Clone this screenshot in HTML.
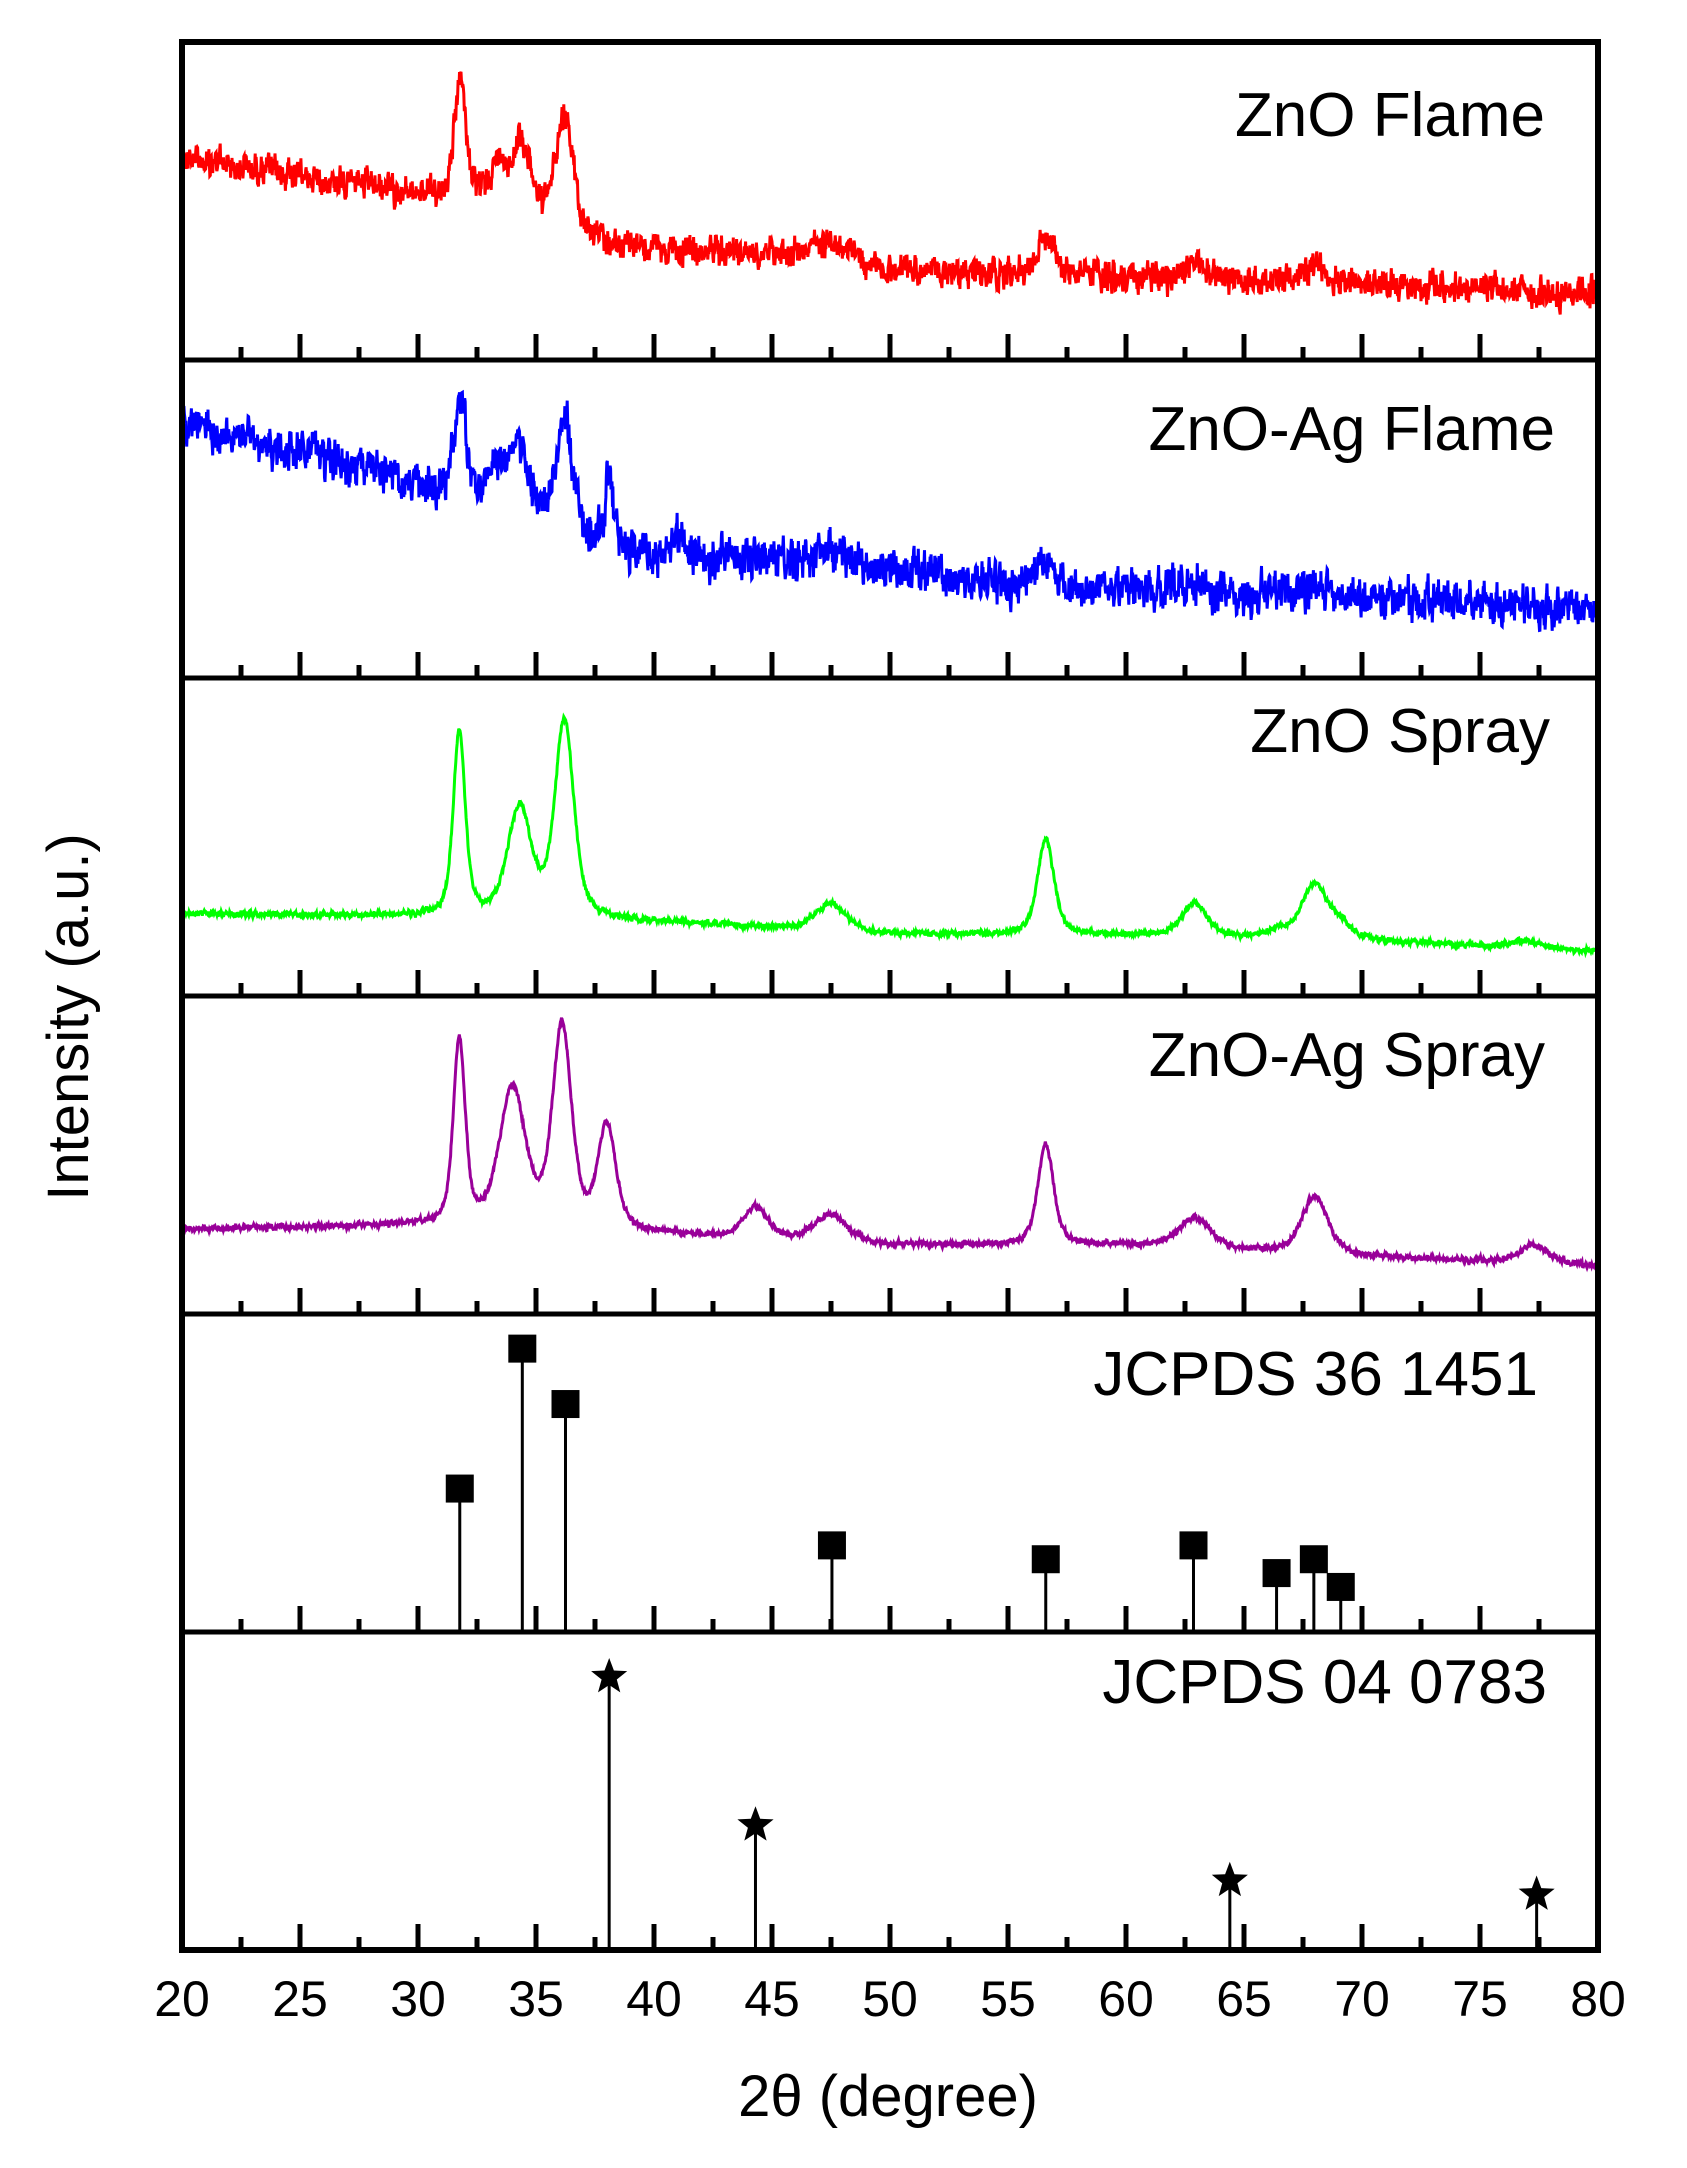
<!DOCTYPE html>
<html><head><meta charset="utf-8"><style>
html,body{margin:0;padding:0;background:#fff;}
svg{display:block;}
text{font-family:"Liberation Sans",Arial,sans-serif;fill:#000;}
</style></head><body>
<svg id="s" width="1687" height="2168" viewBox="0 0 1687 2168" xmlns="http://www.w3.org/2000/svg">
<g id="curves"></g>
<g id="axes" stroke="#000" fill="none"></g>
<g id="sticks"></g>
<text x="1545" y="136" font-size="62" text-anchor="end">ZnO Flame</text>
<text x="1555" y="450" font-size="62" text-anchor="end">ZnO-Ag Flame</text>
<text x="1550" y="752" font-size="62" text-anchor="end">ZnO Spray</text>
<text x="1545" y="1076" font-size="62" text-anchor="end">ZnO-Ag Spray</text>
<text x="1538" y="1395" font-size="62" text-anchor="end">JCPDS 36 1451</text>
<text x="1547" y="1703" font-size="62" text-anchor="end">JCPDS 04 0783</text>
<text transform="translate(88,1017) rotate(-90)" font-size="58" text-anchor="middle">Intensity (a.u.)</text>
<text x="888" y="2116" font-size="58" text-anchor="middle">2θ (degree)</text>
<g id="ticklabels" font-size="50" text-anchor="middle"></g>
</svg>
<script>
var L=182,R=1598,T=42,PH=318;
function X(t){return L+(t-20)*(R-L)/60;}
var S=1.3856;
var seed=12345;function rnd(){seed=(seed*1103515245+12345)%2147483648;return seed/2147483648;}
function interp(pts,t){for(var i=0;i<pts.length-1;i++){if(t<=pts[i+1][0]){var a=pts[i],b=pts[i+1];return a[1]+(b[1]-a[1])*(t-a[0])/(b[0]-a[0]);}}return pts[pts.length-1][1];}
function pk(t,c,h,w){var d=(t-c)/(w/2);return h*(0.5/(1+d*d)+0.5*Math.exp(-0.693*d*d));}
function curve(panel,bg,peaks,noise,color){
  var d="",top=T+panel*PH,prev=0;
  for(var t=20;t<=80.001;t+=0.02){
    var y=interp(bg,t);
    for(var j=0;j<peaks.length;j++)y-=pk(t,peaks[j][0],peaks[j][1],peaks[j][2]);
    var n=noise*(rnd()+rnd()-1);prev=0.45*prev+0.75*n;
    y+=prev;
    var py=top+y*S;
    d+=(d?"L":"M")+X(t).toFixed(1)+","+py.toFixed(1);
  }
  var p=document.createElementNS("http://www.w3.org/2000/svg","path");
  p.setAttribute("d",d);p.setAttribute("stroke",color);p.setAttribute("stroke-width","3");p.setAttribute("fill","none");
  document.getElementById("curves").appendChild(p);
}
// ZnO Flame
curve(0,[[20,83],[30,110],[31,113],[37,143],[40,150],[47,152],[50,165],[60,170],[70,175],[80,182]],
 [[31.8,88,0.6],[33.4,32,1.0],[34.4,55,0.9],[36.2,85,0.9],[47.5,12,1.5],[56.6,30,0.8],[62.9,10,1.2],[68,12,1.3]],16,"#ff0000");
// ZnO-Ag Flame
curve(1,[[20,45],[30,90],[31,97],[37,130],[40,142],[48,147],[55,162],[60,167],[70,172],[80,180]],
 [[31.8,70,0.6],[33.3,30,1.0],[34.3,55,0.9],[36.2,82,0.9],[38.1,50,0.35],[41,15,0.8],[47.5,10,1.5],[56.6,20,0.8],[62.9,8,1.2],[68,8,1.3]],22,"#0000ff");
// ZnO Spray
curve(2,[[20,170],[30,172],[40,176],[50,185],[60,186],[70,190],[80,197]],
 [[31.75,133,0.6],[34.3,78,1.2],[36.2,142,0.95],[47.5,20,1.5],[56.6,68,0.85],[62.9,24,1.3],[66.4,6,1],[68,40,1.3],[69.1,10,1],[77,5,1.5]],3,"#00ff00");
// ZnO-Ag Spray
curve(3,[[20,168],[30,166],[40,172],[50,180],[60,180],[70,188],[80,195]],
 [[31.75,133,0.6],[34,100,1.3],[36.1,145,0.95],[38,75,0.9],[44.3,22,1.2],[47.5,20,1.6],[56.6,72,0.8],[62.9,22,1.6],[68,42,1.3],[77.3,13,1.5]],3,"#990099");

var ax=document.getElementById("axes"),NS="http://www.w3.org/2000/svg";
function line(x1,y1,x2,y2,w,parent,c){var l=document.createElementNS(NS,"line");l.setAttribute("x1",x1);l.setAttribute("y1",y1);l.setAttribute("x2",x2);l.setAttribute("y2",y2);l.setAttribute("stroke",c||"#000");l.setAttribute("stroke-width",w);(parent||ax).appendChild(l);}
var rect=document.createElementNS(NS,"rect");rect.setAttribute("x",L);rect.setAttribute("y",T);rect.setAttribute("width",R-L);rect.setAttribute("height",6*PH);rect.setAttribute("stroke-width","6");ax.appendChild(rect);
for(var i=1;i<6;i++)line(L,T+i*PH,R,T+i*PH,5);
for(var i=1;i<=6;i++){var yb=T+i*PH;
  for(var t=22.5;t<80;t+=2.5){var maj=(Math.abs(t%5)<0.01);line(X(t),yb,X(t),yb-(maj?26:13),5);}
}
var tl=document.getElementById("ticklabels");
for(var t=20;t<=80;t+=5){var tx=document.createElementNS(NS,"text");tx.setAttribute("x",X(t));tx.setAttribute("y",2016);tx.textContent=t;tl.appendChild(tx);}
function Y(yo){return T+(yo-35)*S;}
var st=document.getElementById("sticks");
var sq=[[31.77,1079],[34.42,978],[36.25,1018],[47.54,1120],[56.6,1130],[62.86,1120],[66.38,1140],[67.96,1130],[69.1,1150]];
var b1=T+5*PH;
sq.forEach(function(s){var x=X(s[0]),y=Y(s[1]);line(x,y,x,b1,3,st);
 var r=document.createElementNS(NS,"rect");r.setAttribute("x",x-14);r.setAttribute("y",y-14);r.setAttribute("width",28);r.setAttribute("height",28);st.appendChild(r);});
var stars=[[38.1,1215],[44.3,1322],[64.4,1362],[77.4,1372]];
var b2=T+6*PH;
stars.forEach(function(s){var x=X(s[0]),y=Y(s[1]);line(x,y,x,b2,3,st);
 var pts=[];for(var k=0;k<10;k++){var a=-Math.PI/2+k*Math.PI/5,rr=(k%2?8:19);pts.push((x+rr*Math.cos(a)).toFixed(1)+","+(y+rr*Math.sin(a)).toFixed(1));}
 var p=document.createElementNS(NS,"polygon");p.setAttribute("points",pts.join(" "));st.appendChild(p);});
</script>
</body></html>
